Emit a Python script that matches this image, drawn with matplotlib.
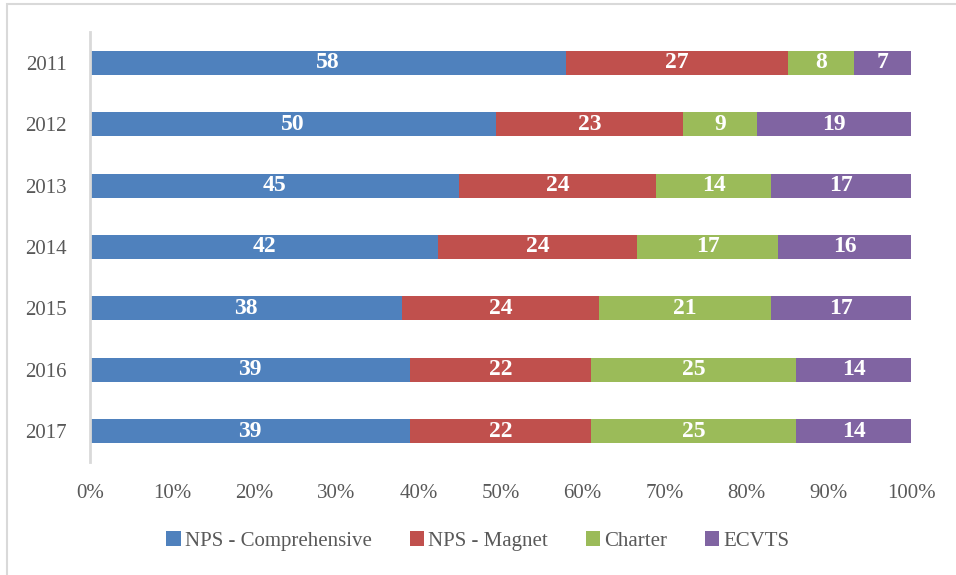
import numpy as np
import matplotlib.pyplot as plt
from matplotlib.patches import Rectangle

years = ['2011', '2012', '2013', '2014', '2015', '2016', '2017']
series = ['NPS - Comprehensive', 'NPS - Magnet', 'Charter', 'ECVTS']
comprehensive = [58, 50, 45, 42, 38, 39, 39]
magnet = [27, 23, 24, 24, 24, 22, 22]
charter = [8, 9, 14, 17, 21, 25, 25]
ecvts = [7, 19, 17, 16, 17, 14, 14]
colors = ['#4F81BD', '#C0504D', '#9BBB59', '#8064A2']

plt.rcParams['font.family'] = ['Liberation Serif', 'DejaVu Serif']

fig = plt.figure(figsize=(9.56, 5.75), dpi=100)
ax = fig.add_axes([90 / 956, 1 - 462 / 575, 821 / 956, 430 / 575])

# outer border of the chart box
fig.patches.append(Rectangle((7 / 956, -0.1), 1.2, 1 - 4 / 575 + 0.1,
                             transform=fig.transFigure, fill=False,
                             edgecolor='#d9d9d9', linewidth=1.5))

vals = np.array([comprehensive, magnet, charter, ecvts], dtype=float)
shares = vals / vals.sum(axis=0)
y = np.arange(len(years))
left = np.zeros(len(years))
for i in range(len(series)):
    ax.barh(y, shares[i], left=left, height=0.39, color=colors[i], label=series[i])
    for j in range(len(years)):
        ax.text(left[j] + shares[i][j] / 2, y[j], str(int(vals[i][j])),
                ha='center', va='center', color='white', fontsize=17,
                fontweight='bold')
    left += shares[i]

ax.set_xlim(0, 1)
ax.set_ylim(6.5, -0.5)
ax.set_yticks(y)
ax.set_yticklabels(years)
ax.set_xticks(np.arange(0, 1.01, 0.1))
ax.set_xticklabels([f'{int(round(t * 100))}%' for t in np.arange(0, 1.01, 0.1)])
ax.tick_params(length=0, labelsize=15, colors='#595959')
ax.tick_params(axis='x', pad=16)
ax.tick_params(axis='y', pad=17)
for s in ['top', 'right', 'bottom']:
    ax.spines[s].set_visible(False)
ax.spines['left'].set_color('#d9d9d9')
ax.spines['left'].set_linewidth(2)

fig.legend(loc='center', bbox_to_anchor=(0.5, 1 - 541 / 575), ncol=4,
           frameon=False, fontsize=15, handlelength=0.7, handleheight=0.7,
           handletextpad=0.2, columnspacing=1.8, labelcolor='#595959')

plt.savefig('out.png', dpi=100)
